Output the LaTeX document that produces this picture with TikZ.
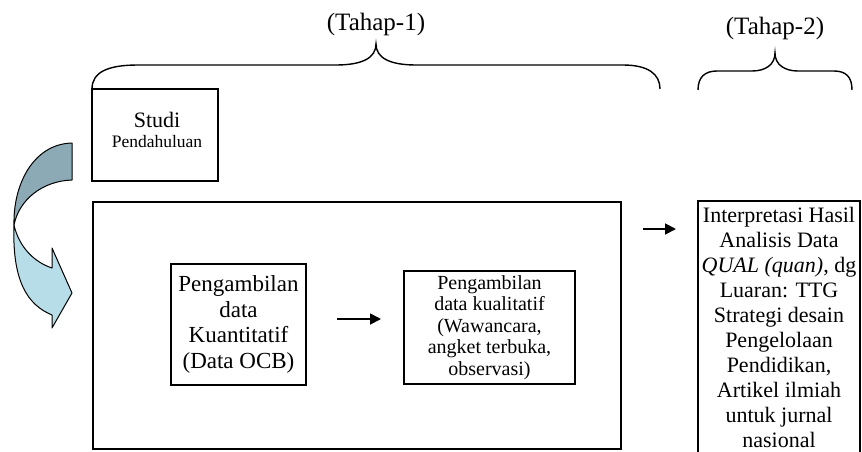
\documentclass[tikz,border=0pt]{standalone}
\usepackage{fontspec}
\setmainfont{Liberation Serif}
\usetikzlibrary{arrows.meta}

\definecolor{arrowdark}{RGB}{139,170,181}
\definecolor{arrowlight}{RGB}{183,222,232}

\begin{document}
\begin{tikzpicture}[x=1pt, y=-1pt, line width=1.2pt,
    box/.style={draw, rectangle, inner sep=0pt, align=center},
    brace/.style={line width=1.4pt},
    arr/.style={line width=1.8pt, -{Triangle[length=11pt, width=11pt]}}]
\useasboundingbox (0,0) rectangle (862,452);
\clip (0,0) rectangle (862,452);
% braces and stage labels
\draw[brace] (92,89) .. controls (92,72) and (108,65) .. (138,65) -- (336,65)
    .. controls (362,65) and (376,58) .. (376,44)
    .. controls (376,58) and (390,65) .. (416,65) -- (623,65)
    .. controls (648,65) and (660,74) .. (660,89);
\node[font=\fontsize{25}{28}\selectfont] (tahap1) at (376,24) {(Tahap-1)};
\draw[brace] (698,90) .. controls (698,77) and (705,71) .. (717,71) -- (752,71)
    .. controls (765,71) and (775,65) .. (775,53)
    .. controls (775,65) and (785,71) .. (798,71) -- (834,71)
    .. controls (846,71) and (852,77) .. (852,90);
\node[font=\fontsize{25}{28}\selectfont] (tahap2) at (775,28) {(Tahap-2)};
% boxes
\node[box, minimum width=126pt, minimum height=92pt] (studi) at (155,135) {};
\node[font=\fontsize{22}{25}\selectfont] (studi1) at (157,120) {Studi};
\node[font=\fontsize{17.5}{20}\selectfont] (studi2) at (157,142) {Pendahuluan};
\node[box, minimum width=528pt, minimum height=247pt] (tahap) at (357,325.5) {};
\node[box, minimum width=135pt, minimum height=121pt, font=\fontsize{23}{25.5}\selectfont]
    (kuant) at (238.5,324.5) {Pengambilan\\data\\Kuantitatif\\(Data OCB)};
\node[box, minimum width=171pt, minimum height=113pt, font=\fontsize{20}{21.5}\selectfont]
    (kual) at (489.5,327.5) {Pengambilan\\data kualitatif\\(Wawancara,\\angket terbuka,\\observasi)};
\node[box, minimum width=162pt, minimum height=280pt] (hasil) at (779,341) {};
\node[align=center, inner sep=0pt, anchor=north, font=\fontsize{22}{25}\selectfont]
    (hasiltxt) at (779,207) {Interpretasi Hasil\\Analisis Data\\\textit{QUAL (quan)}, dg\\Luaran: TTG\\Strategi desain\\Pengelolaan\\Pendidikan,\\Artikel ilmiah\\untuk jurnal\\nasional};
% arrows
\coordinate (k1) at (337,319);
\coordinate (k2) at (381,319);
\draw[arr] (k1) -- (k2);
\coordinate (h1) at (643,229);
\coordinate (h2) at (676,229);
\draw[arr] (h1) -- (h2);
% curved arrow
\draw[fill=arrowdark, line width=1pt, line join=round] (72,143) -- (72,180)
    .. controls (42,181) and (19,200) .. (14,225)
    .. controls (13,185) and (33,144) .. (72,143) -- cycle;
\draw[fill=arrowlight, line width=1pt, line join=round] (14,225)
    .. controls (12,282) and (28,305) .. (52,315) -- (52,328) -- (72,293) -- (52,248) -- (52,268)
    .. controls (34,262) and (19,247) .. (14,225) -- cycle;
\end{tikzpicture}
\end{document}
